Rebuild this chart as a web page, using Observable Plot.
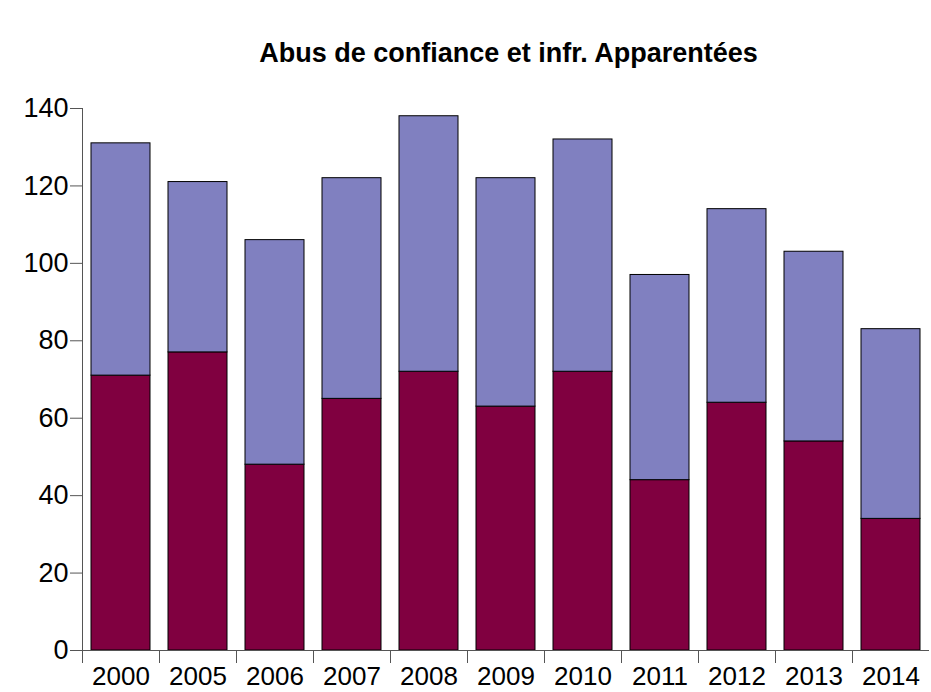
<!DOCTYPE html>
<html>
<head>
<meta charset="utf-8">
<script src="https://cdn.jsdelivr.net/npm/d3@7"></script>
<script src="https://cdn.jsdelivr.net/npm/@observablehq/plot@0.6"></script>
<style>
  html, body { margin: 0; padding: 0; background: #fff; }
  body { width: 931px; height: 692px; overflow: hidden; font-family: "Liberation Sans", Arial, sans-serif; }
  #title { height: 30px; padding-top: 40px; line-height: 27px; font-size: 27px; font-weight: bold; text-align: center; color: #000; padding-left: 88px; padding-right: 2px; box-sizing: content-box; white-space: nowrap; }
</style>
</head>
<body>
<div id="title">Abus de confiance et infr. Apparentées</div>
<div id="chart"></div>
<script>
const years = ["2000", "2005", "2006", "2007", "2008", "2009", "2010", "2011", "2012", "2013", "2014"];
const seriesNames = ["Série 1", "Série 2"];
const serie1 = [71, 77, 48, 65, 72, 63, 72, 44, 64, 54, 34];
const serie2 = [60, 44, 58, 57, 66, 59, 60, 53, 50, 49, 49];
const colors = ["#800040", "#8080C0"];
const yTicks = [0, 20, 40, 60, 80, 100, 120, 140];

const data = [];
years.forEach((y, i) => {
  data.push({year: y, serie: seriesNames[0], value: serie1[i]});
  data.push({year: y, serie: seriesNames[1], value: serie2[i]});
});

const W = 931, H = 622, mL = 82, mR = 2, mT = 38, mB = 42;
const step = (W - mL - mR) / years.length;

const plot = Plot.plot({
  width: W,
  height: H,
  marginLeft: mL,
  marginRight: mR,
  marginTop: mT,
  marginBottom: mB,
  style: {fontFamily: "'Liberation Sans', Arial, sans-serif", background: "#fff", color: "#000", overflow: "visible"},
  x: {domain: years, padding: 0, axis: null, label: null},
  y: {domain: [0, 140], axis: null, label: null},
  color: {domain: seriesNames, range: colors},
  marks: [
    Plot.barY(data, {x: "year", y: "value", fill: "serie", stroke: "#000", strokeWidth: 1, insetLeft: 9, insetRight: 9, order: seriesNames}),
    Plot.frame({anchor: "left", stroke: "#555"}),
    Plot.ruleY([0], {stroke: "#555"}),
    Plot.axisY({ticks: yTicks, tickSize: 12, tickPadding: 2, fontSize: 27, stroke: "#555", label: null, tickFormat: d => String(d)}),
    Plot.axisX({tickSize: 0, tickPadding: 16, fontSize: 26, label: null}),
    Plot.axisX({tickSize: 13, tickFormat: () => "", dx: -step / 2, stroke: "#555", label: null})
  ]
});
document.getElementById("chart").appendChild(plot);
</script>
</body>
</html>
